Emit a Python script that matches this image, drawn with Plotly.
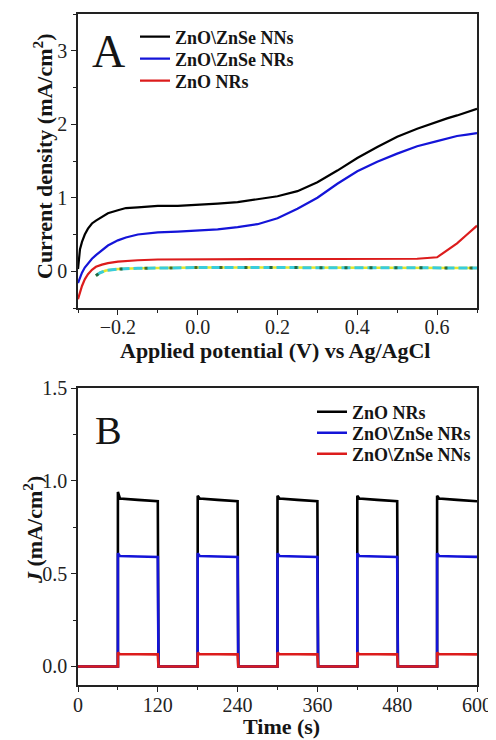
import plotly.graph_objects as go

# ---------------- Panel A data (linear sweep voltammetry) ----------------
potential = [-0.300, -0.295, -0.290, -0.283, -0.275, -0.265, -0.255, -0.240, -0.225, -0.200,
             -0.180, -0.150, -0.100, -0.050, 0.000, 0.050, 0.100, 0.150, 0.200, 0.250,
             0.300, 0.350, 0.400, 0.450, 0.500, 0.550, 0.600, 0.625, 0.650, 0.675, 0.700]
nns_A = [0.03, 0.30, 0.40, 0.50, 0.58, 0.65, 0.69, 0.74, 0.79, 0.83,
         0.86, 0.87, 0.89, 0.89, 0.90, 0.92, 0.94, 0.98, 1.02, 1.09,
         1.21, 1.37, 1.54, 1.69, 1.83, 1.94, 2.04, 2.08, 2.12, 2.16, 2.21]
nrs_A = [-0.16, -0.08, -0.02, 0.05, 0.11, 0.17, 0.22, 0.29, 0.35, 0.42,
         0.46, 0.50, 0.53, 0.54, 0.55, 0.57, 0.60, 0.64, 0.72, 0.85,
         1.00, 1.19, 1.36, 1.49, 1.60, 1.70, 1.77, 1.81, 1.84, 1.86, 1.88]
zno_A = [-0.38, -0.28, -0.20, -0.11, -0.04, 0.02, 0.06, 0.09, 0.11, 0.13,
         0.14, 0.15, 0.16, 0.16, 0.17, 0.17, 0.17, 0.17, 0.17, 0.17,
         0.16, 0.17, 0.17, 0.16, 0.17, 0.17, 0.19, 0.28, 0.38, 0.50, 0.62]
dark_pot = [-0.255, -0.245, -0.230, -0.200, -0.150, -0.100, 0.000, 0.200, 0.400, 0.600, 0.700]
dark_A = [-0.06, -0.02, 0.01, 0.03, 0.04, 0.045, 0.05, 0.05, 0.05, 0.05, 0.045]

# ---------------- Panel B data (chopped-light i-t) ----------------
light_on = [60, 180, 300, 420, 540]
light_off = [120, 240, 360, 480, 600]
t_end = 600
zno_peak = [0.94, 0.92, 0.92, 0.92, 0.92]
zno_mid = [0.905, 0.905, 0.905, 0.905, 0.905]
zno_end = [0.89, 0.89, 0.89, 0.89, 0.89]
nrs_peak = [0.61, 0.61, 0.61, 0.61, 0.61]
nrs_mid = [0.595, 0.595, 0.595, 0.595, 0.595]
nrs_end = [0.59, 0.59, 0.59, 0.59, 0.59]
nns_peak = [0.075, 0.075, 0.075, 0.075, 0.075]
nns_mid = [0.066, 0.066, 0.066, 0.066, 0.066]
nns_end = [0.065, 0.065, 0.065, 0.065, 0.065]
dark_level = 0.0


def chopped(peak, mid, end):
    t, j = [0], [dark_level]
    for k in range(len(light_on)):
        on, off = light_on[k], light_off[k]
        t += [on, on, on + 3, on + 30, off]
        j += [dark_level, peak[k], mid[k], (mid[k] + end[k]) / 2, end[k]]
        if off < t_end:
            t += [off + 1]
            j += [dark_level]
    return t, j


# page is drawn with an 8 px body margin, so the figure is 488x732 offset by 8 px
W, H, OFF = 488, 732, 8


def px(x):
    return (x - OFF) / W


def py(y):
    return 1 - (y - OFF) / H


FONT = "Liberation Serif"
BLACK, BLUE, RED = "#000000", "#1414D8", "#DC1C1C"
TXT = "#151515"

fig = go.Figure()

# Panel A dark-current traces
fig.add_trace(go.Scatter(x=dark_pot, y=dark_A, mode="lines", line=dict(color="#E6E62A", width=2.5),
                         showlegend=False, xaxis="x", yaxis="y"))
fig.add_trace(go.Scatter(x=dark_pot, y=dark_A, mode="lines", line=dict(color="#38CCDC", width=3, dash="9px,4px"),
                         showlegend=False, xaxis="x", yaxis="y"))
fig.add_trace(go.Scatter(x=dark_pot, y=dark_A, mode="lines", line=dict(color="#1F4F1F", width=3, dash="3px,22px"),
                         opacity=0.8, showlegend=False, xaxis="x", yaxis="y"))

# Panel A photocurrent curves
for ys, nm, col, lg in [(nns_A, "ZnO\\ZnSe NNs", BLACK, "legend"),
                        (nrs_A, "ZnO\\ZnSe NRs", BLUE, "legend2"),
                        (zno_A, "ZnO NRs", RED, "legend3")]:
    fig.add_trace(go.Scatter(x=potential, y=ys, mode="lines", name="<b>" + nm + "</b>",
                             line=dict(color=col, width=2.2), xaxis="x", yaxis="y", legend=lg))

# Panel B
for (pk, md, en), nm, col, lg in [((zno_peak, zno_mid, zno_end), "ZnO NRs", BLACK, "legend4"),
                                  ((nrs_peak, nrs_mid, nrs_end), "ZnO\\ZnSe NRs", BLUE, "legend5"),
                                  ((nns_peak, nns_mid, nns_end), "ZnO\\ZnSe NNs", RED, "legend6")]:
    tt, jj = chopped(pk, md, en)
    fig.add_trace(go.Scatter(x=tt, y=jj, mode="lines", name="<b>" + nm + "</b>",
                             line=dict(color=col, width=2.6), xaxis="x2", yaxis="y2", legend=lg))

axis_common = dict(showline=True, linecolor="#222222", linewidth=1.5, mirror=True, showgrid=False,
                   zeroline=False, ticks="outside", ticklen=5, tickwidth=1.3, tickcolor="#222222",
                   automargin=False,
                   tickfont=dict(family=FONT, size=20, color="#222222"))
XD = [px(78), px(477)]


def leg(x, y):
    return dict(x=px(x), y=py(y), xanchor="left", yanchor="middle", bgcolor="rgba(0,0,0,0)",
                font=dict(family=FONT, size=18, color=TXT), itemwidth=30)


title_font = dict(family=FONT, size=22, color=TXT)

fig.update_layout(
    width=W, height=H, margin=dict(l=0, r=0, t=0, b=0, autoexpand=False),
    paper_bgcolor="white", plot_bgcolor="white",
    xaxis=dict(domain=XD, anchor="y", range=[-0.3, 0.7], dtick=0.2, tick0=0, tickformat=".1f",
               ticklabelstandoff=-5,
               minor=dict(ticks="outside", dtick=0.1, tick0=0, ticklen=3, tickcolor="#222222"),
               **axis_common),
    yaxis=dict(domain=[py(308), py(14)], anchor="x", range=[-0.5, 3.5], dtick=1, tick0=0,
               minor=dict(ticks="outside", dtick=0.5, tick0=0, ticklen=3, tickcolor="#222222"),
               **axis_common),
    xaxis2=dict(domain=XD, anchor="y2", range=[0, 600], dtick=120, tick0=0,
                ticklabelstandoff=-4,
                minor=dict(ticks="outside", dtick=60, tick0=0, ticklen=3, tickcolor="#222222"),
                **axis_common),
    yaxis2=dict(domain=[py(685), py(388)], anchor="x2", range=[-0.1, 1.5], dtick=0.5, tick0=0,
                tickformat=".1f",
                minor=dict(ticks="outside", dtick=0.25, tick0=0, ticklen=3, tickcolor="#222222"),
                **axis_common),
    legend=leg(135, 37), legend2=leg(135, 59), legend3=leg(135, 81),
    legend4=leg(312, 412), legend5=leg(312, 433), legend6=leg(312, 454),
    annotations=[
        dict(text="A", x=px(108), y=py(51), xref="paper", yref="paper", showarrow=False,
             xanchor="center", yanchor="middle", font=dict(family=FONT, size=46, color=TXT)),
        dict(text="B", x=px(108), y=py(430), xref="paper", yref="paper", showarrow=False,
             xanchor="center", yanchor="middle", font=dict(family=FONT, size=40, color=TXT)),
        # axis titles
        dict(text="<b>Applied potential (V) vs Ag/AgCl</b>", x=px(275), y=py(350), xref="paper", yref="paper",
             showarrow=False, xanchor="center", yanchor="middle", font=title_font),
        dict(text="<b>Current density (mA/cm<sup>2</sup>)</b>", x=px(43), y=py(156), xref="paper", yref="paper",
             showarrow=False, xanchor="center", yanchor="middle", textangle=-90, font=title_font),
        dict(text="<b>Time (s)</b>", x=px(281), y=py(726), xref="paper", yref="paper",
             showarrow=False, xanchor="center", yanchor="middle", font=title_font),
        dict(text="<b><i>J</i> (mA/cm<sup>2</sup>)</b>", x=px(33), y=py(530), xref="paper", yref="paper",
             showarrow=False, xanchor="center", yanchor="middle", textangle=-90, font=title_font),
    ],
)

fig.write_html("out.html")
